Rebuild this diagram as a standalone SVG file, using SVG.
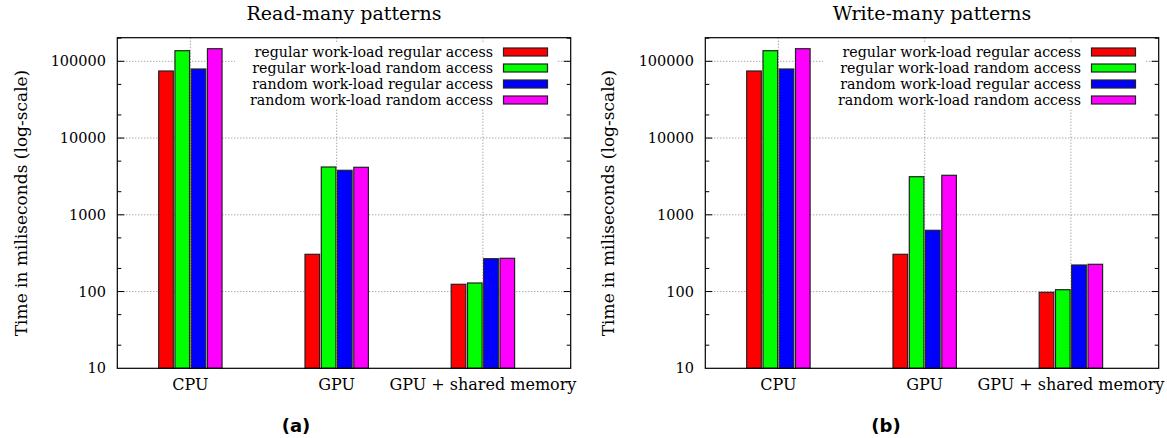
<svg xmlns="http://www.w3.org/2000/svg" width="1167" height="438" viewBox="0 0 1167 438">
<style>
text{font-family:"DejaVu Serif","Liberation Serif",serif;fill:#000}
.title{font-size:19px;text-anchor:middle}
.tick{font-size:14.5px;text-anchor:end}
.xl{font-size:16px;text-anchor:middle}
.key{font-size:14.2px;text-anchor:end}
.ylab{font-size:17px;text-anchor:middle}
.cap{font-family:"DejaVu Sans","Liberation Sans",sans-serif;font-weight:bold;font-size:18px;text-anchor:middle}
.grid{stroke:#666;stroke-width:0.8;stroke-dasharray:1 2;fill:none}
.frame{fill:none;stroke:#000;stroke-width:1.2}
.tk{stroke:#000;stroke-width:1}
.bar{stroke:#222;stroke-width:1.2}
.r{fill:#ff0000}.g{fill:#00ff00}.b{fill:#0000ff}.m{fill:#ff00ff}
</style>
<defs>
<g id="yticks">
<path class="tk" d="M0,291.55h7M0,214.8h7M0,138.05h7M0,61.3h7
M0,345.2h4M0,314.65h4M0,268.45h4M0,237.9h4M0,191.7h4M0,161.15h4M0,114.95h4M0,84.4h4M0,38.2h4"/>
</g>
</defs>

<!-- Chart (a) -->
<g id="chart-a">
<text class="title" x="344" y="19.5">Read-many patterns</text>
<g id="grid-a">
<path class="grid" d="M117.3,291.55H570.7M117.3,214.8H570.7M117.3,138.05H570.7M117.3,61.3H570.7M190.4,37.7V368.3M336.7,37.7V368.3M482.9,37.7V368.3"/>
</g>
<g id="bars-a">
<rect class="bar r" x="158.7" y="71" width="14.6" height="297.3"/>
<rect class="bar g" x="174.95" y="50.7" width="14.6" height="317.6"/>
<rect class="bar b" x="191.2" y="69" width="14.6" height="299.3"/>
<rect class="bar m" x="207.45" y="48.7" width="14.6" height="319.6"/>
<rect class="bar r" x="305" y="254.3" width="14.6" height="114"/>
<rect class="bar g" x="321.3" y="167" width="14.6" height="201.3"/>
<rect class="bar b" x="337.5" y="170.3" width="14.6" height="198"/>
<rect class="bar m" x="353.8" y="167.3" width="14.6" height="201"/>
<rect class="bar r" x="451.2" y="284.3" width="14.6" height="84"/>
<rect class="bar g" x="467.5" y="283" width="14.6" height="85.3"/>
<rect class="bar b" x="483.7" y="258.7" width="14.6" height="109.6"/>
<rect class="bar m" x="500" y="258.3" width="14.6" height="110"/>
</g>
<g id="legend-a">
<rect x="235" y="42" width="322" height="66" fill="#fff"/>
<text class="key" x="493" y="56.5">regular work-load regular access</text>
<text class="key" x="493" y="72.5">regular work-load random access</text>
<text class="key" x="493" y="88.5">random work-load regular access</text>
<text class="key" x="493" y="104.5">random work-load random access</text>
<rect class="bar r" x="503.5" y="48" width="44" height="8"/>
<rect class="bar g" x="503.5" y="64" width="44" height="8"/>
<rect class="bar b" x="503.5" y="80" width="44" height="8"/>
<rect class="bar m" x="503.5" y="96" width="44" height="8"/>
</g>
<rect class="frame" x="117.3" y="37.7" width="453.4" height="330.6"/>
<use href="#yticks" transform="translate(117.3,0)"/>
<use href="#yticks" transform="translate(570.7,0) scale(-1,1)"/>
<text class="tick" x="106" y="373.3">10</text>
<text class="tick" x="106" y="296.5">100</text>
<text class="tick" x="106" y="219.8">1000</text>
<text class="tick" x="106" y="143">10000</text>
<text class="tick" x="106" y="66.3">100000</text>
<text class="ylab" transform="translate(27,203) rotate(-90)">Time in miliseconds (log-scale)</text>
<text class="xl" x="190.4" y="390">CPU</text>
<text class="xl" x="336.7" y="390">GPU</text>
<text class="xl" x="482.9" y="390">GPU + shared memory</text>
<text class="cap" x="296" y="432">(a)</text>
</g>

<!-- Chart (b) -->
<g id="chart-b">
<text class="title" x="932" y="19.5">Write-many patterns</text>
<g id="grid-b">
<path class="grid" d="M705.3,291.55H1158.7M705.3,214.8H1158.7M705.3,138.05H1158.7M705.3,61.3H1158.7M778.4,37.7V368.3M924.7,37.7V368.3M1070.9,37.7V368.3"/>
</g>
<g id="bars-b">
<rect class="bar r" x="746.7" y="71" width="14.6" height="297.3"/>
<rect class="bar g" x="763" y="50.7" width="14.6" height="317.6"/>
<rect class="bar b" x="779.2" y="69" width="14.6" height="299.3"/>
<rect class="bar m" x="795.5" y="48.7" width="14.6" height="319.6"/>
<rect class="bar r" x="893" y="254.3" width="14.6" height="114"/>
<rect class="bar g" x="909.3" y="176.7" width="14.6" height="191.6"/>
<rect class="bar b" x="925.5" y="230.3" width="14.6" height="138"/>
<rect class="bar m" x="941.8" y="175.3" width="14.6" height="193"/>
<rect class="bar r" x="1039.2" y="292.3" width="14.6" height="76"/>
<rect class="bar g" x="1055.5" y="289.7" width="14.6" height="78.6"/>
<rect class="bar b" x="1071.7" y="265" width="14.6" height="103.3"/>
<rect class="bar m" x="1088" y="264.3" width="14.6" height="104"/>
</g>
<g id="legend-b">
<rect x="823" y="42" width="322" height="66" fill="#fff"/>
<text class="key" x="1081" y="56.5">regular work-load regular access</text>
<text class="key" x="1081" y="72.5">regular work-load random access</text>
<text class="key" x="1081" y="88.5">random work-load regular access</text>
<text class="key" x="1081" y="104.5">random work-load random access</text>
<rect class="bar r" x="1091.5" y="48" width="44" height="8"/>
<rect class="bar g" x="1091.5" y="64" width="44" height="8"/>
<rect class="bar b" x="1091.5" y="80" width="44" height="8"/>
<rect class="bar m" x="1091.5" y="96" width="44" height="8"/>
</g>
<rect class="frame" x="705.3" y="37.7" width="453.4" height="330.6"/>
<use href="#yticks" transform="translate(705.3,0)"/>
<use href="#yticks" transform="translate(1158.7,0) scale(-1,1)"/>
<text class="tick" x="694" y="373.3">10</text>
<text class="tick" x="694" y="296.5">100</text>
<text class="tick" x="694" y="219.8">1000</text>
<text class="tick" x="694" y="143">10000</text>
<text class="tick" x="694" y="66.3">100000</text>
<text class="ylab" transform="translate(614,203) rotate(-90)">Time in miliseconds (log-scale)</text>
<text class="xl" x="778.4" y="390">CPU</text>
<text class="xl" x="924.7" y="390">GPU</text>
<text class="xl" x="1070.9" y="390">GPU + shared memory</text>
<text class="cap" x="886" y="432">(b)</text>
</g>
</svg>
